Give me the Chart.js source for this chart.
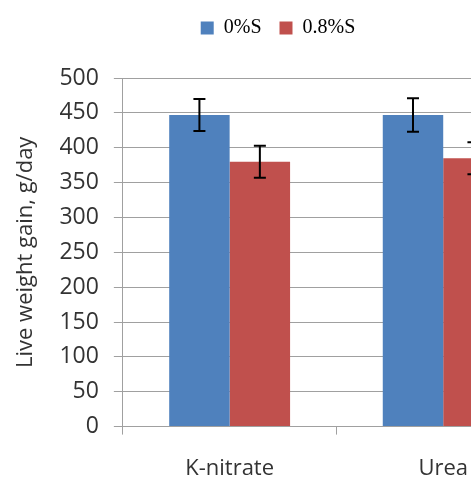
<!DOCTYPE html>
<html lang="en">
<head>
<meta charset="UTF-8">
<title>Live weight gain</title>
<script src="https://cdn.jsdelivr.net/npm/chart.js"></script>
<style>
  html, body { margin: 0; padding: 0; background: #fff; overflow: hidden; }
  #wrap { width: 564px; height: 479px; position: relative; }
</style>
</head>
<body>
<div id="wrap"><canvas id="myChart"></canvas></div>
<script>
// data
const categories = ['K-nitrate', 'Urea'];
const seriesNames = ['0%S', '0.8%S'];
const gain0 = [447, 447];
const gain08 = [380, 385];
const err0 = [23, 24];
const err08 = [23, 23];
const yTicks = [0, 50, 100, 150, 200, 250, 300, 350, 400, 450, 500];

// little plugin for the error bars
const errorBars = {
  id: 'errorBars',
  afterDatasetsDraw(chart) {
    const ctx = chart.ctx;
    const y = chart.scales.y;
    ctx.save();
    ctx.strokeStyle = '#000';
    ctx.lineWidth = 2;
    chart.data.datasets.forEach(function (ds, i) {
      const meta = chart.getDatasetMeta(i);
      meta.data.forEach(function (bar, j) {
        const v = ds.data[j], e = ds.errors[j];
        const top = y.getPixelForValue(v + e);
        const bot = y.getPixelForValue(v - e);
        const x = bar.x;
        ctx.beginPath();
        ctx.moveTo(x, top); ctx.lineTo(x, bot);
        ctx.moveTo(x - 6, top); ctx.lineTo(x + 6, top);
        ctx.moveTo(x - 6, bot); ctx.lineTo(x + 6, bot);
        ctx.stroke();
      });
    });
    ctx.restore();
  }
};

// push the plot down below the legend
const legendGap = {
  id: 'legendGap',
  beforeInit(chart) {
    const origFit = chart.legend.fit;
    chart.legend.fit = function () {
      origFit.bind(chart.legend)();
      this.height += 30;
    };
  }
};

const el = document.getElementById('myChart');
new Chart(el, {
  type: 'bar',
  data: {
    labels: categories,
    datasets: [{
      label: seriesNames[0],
      data: gain0,
      errors: err0,
      backgroundColor: '#4F81BD',
      categoryPercentage: 0.566,
      barPercentage: 1
    }, {
      label: seriesNames[1],
      data: gain08,
      errors: err08,
      backgroundColor: '#C0504D',
      categoryPercentage: 0.566,
      barPercentage: 1
    }]
  },
  options: {
    responsive: true,
    maintainAspectRatio: false,
    animation: false,
    layout: { padding: { top: 0, right: 14, left: 6, bottom: -24 } },
    plugins: {
      tooltip: { enabled: false },
      legend: {
        position: 'top',
        labels: {
          boxWidth: 13,
          boxHeight: 13,
          padding: 18,
          color: '#000',
          font: { family: 'Liberation Serif', size: 20 }
        }
      }
    },
    scales: {
      x: {
        grid: { offset: true, drawOnChartArea: false, tickLength: 8, color: '#a0a0a0', lineWidth: 1 },
        border: { color: '#a0a0a0' },
        ticks: { color: '#333', padding: 21, font: { family: 'Open Sans', size: 22 } }
      },
      y: {
        min: 0,
        max: 500,
        afterBuildTicks: function (s) { s.ticks = yTicks.map(function (v) { return { value: v }; }); },
        grid: { color: '#a0a0a0', tickLength: 9, lineWidth: 1 },
        border: { color: '#a0a0a0' },
        ticks: { color: '#333', padding: 15, font: { family: 'Open Sans', size: 23 } },
        title: {
          display: true,
          text: 'Live weight gain, g/day',
          color: '#333',
          padding: { top: 7, bottom: 5 },
          font: { family: 'Open Sans', size: 22 }
        }
      }
    }
  },
  plugins: [errorBars, legendGap]
});
</script>
</body>
</html>
